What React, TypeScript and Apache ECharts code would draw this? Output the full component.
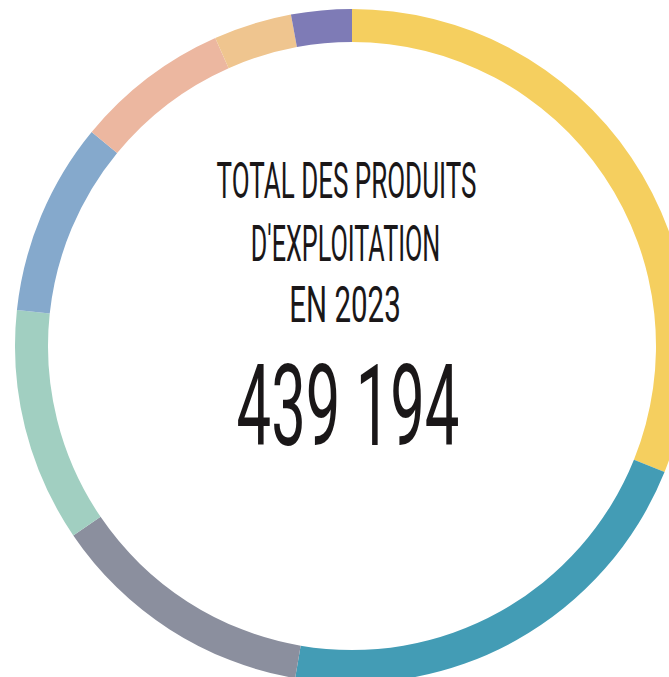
import React, { useEffect, useRef } from "react";
import * as echarts from "echarts";

const categories = [
  "Catégorie 1",
  "Catégorie 2",
  "Catégorie 3",
  "Catégorie 4",
  "Catégorie 5",
  "Catégorie 6",
  "Catégorie 7",
  "Catégorie 8",
];
const values = [136589, 94866, 56217, 49190, 40625, 32500, 16470, 12737];
const colors = ["#F5CF5F", "#439CB5", "#8B8F9E", "#A1CFC1", "#85A9CC", "#ECB7A0", "#EFC58F", "#7E7BB6"];
const titleLines = ["TOTAL DES PRODUITS", "D'EXPLOITATION", "EN 2023"];
const totalLabel = "439 194";

export default function App() {
  const ref = useRef<HTMLDivElement>(null);
  useEffect(() => {
    if (!ref.current) return;
    const chart = echarts.init(ref.current, null, { renderer: "svg" });
    const cx = 352;
    const cy = 346;
    const lineYs = [181, 243.5, 305];
    const lineScales = [0.52, 0.504, 0.59];
    const lineXs = [346.5, 345.5, 345];
    chart.setOption({
      animation: false,
      backgroundColor: "#ffffff",
      series: [
        {
          type: "pie",
          center: [cx, cy],
          radius: [304, 337],
          startAngle: 90,
          clockwise: true,
          silent: true,
          label: { show: false },
          labelLine: { show: false },
          itemStyle: { borderWidth: 0 },
          data: categories.map((name, i) => ({
            name,
            value: values[i],
            itemStyle: { color: colors[i] },
          })),
        },
      ],
      graphic: [
        ...titleLines.map((t, i) => ({
          type: "text",
          x: lineXs[i],
          y: lineYs[i],
          scaleX: lineScales[i],
          silent: true,
          style: {
            text: t,
            x: 0,
            y: 0,
            textAlign: "center",
            textVerticalAlign: "middle",
            fontFamily: "Roboto",
            fontWeight: 400,
            fontSize: 50,
            fill: "#1a1718",
          },
        })),
        {
          type: "text",
          x: 348,
          y: 406,
          scaleX: 0.54,
          silent: true,
          style: {
            text: totalLabel,
            x: 0,
            y: 0,
            textAlign: "center",
            textVerticalAlign: "middle",
            fontFamily: "Roboto",
            fontWeight: 400,
            fontSize: 114,
            fill: "#1a1718",
          },
        },
      ],
    });
    return () => chart.dispose();
  }, []);
  return (
    <div
      ref={ref}
      style={{ position: "fixed", left: 0, top: 0, width: 669, height: 677 }}
    />
  );
}
